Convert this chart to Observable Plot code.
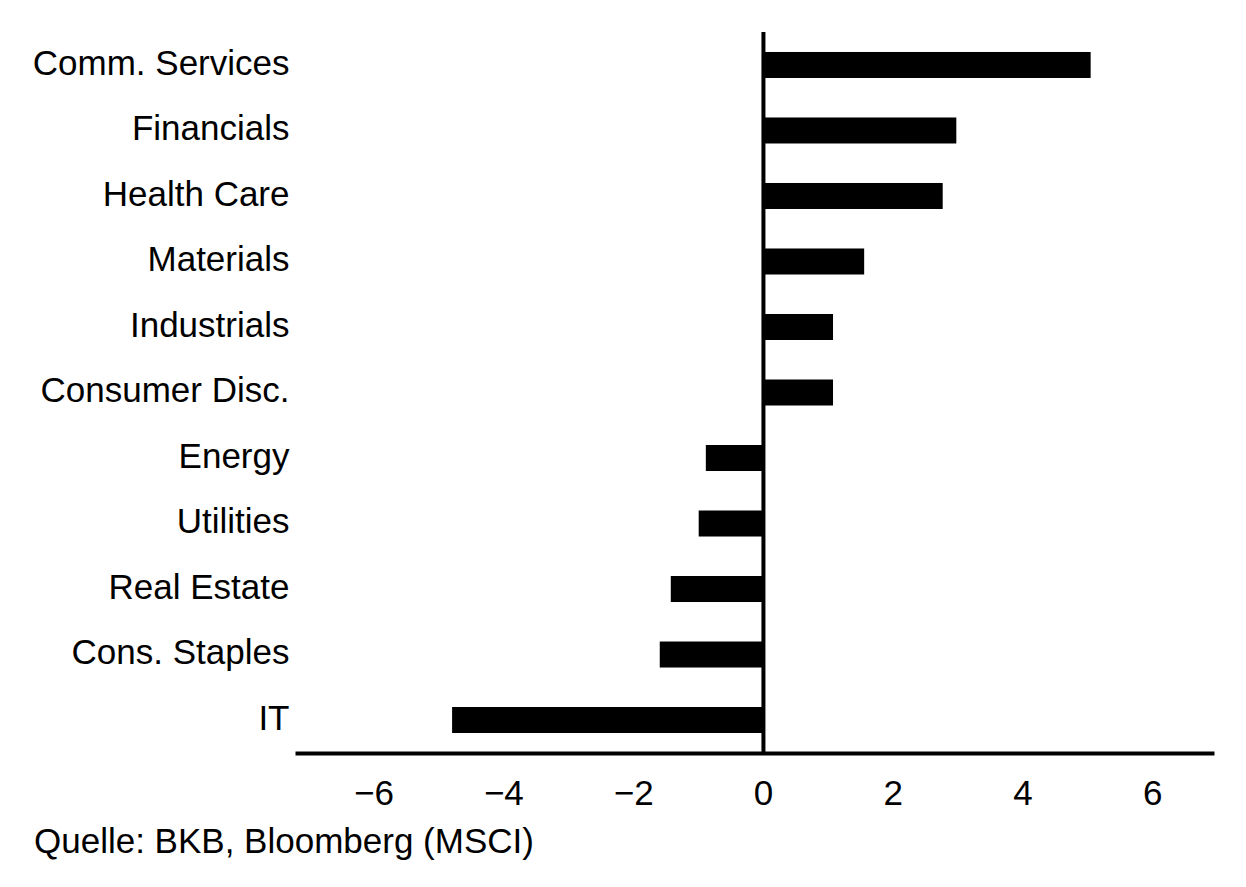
<!DOCTYPE html>
<html>
<head>
<meta charset="utf-8">
<script src="https://cdn.jsdelivr.net/npm/d3@7"></script>
<script src="https://cdn.jsdelivr.net/npm/@observablehq/plot@0.6"></script>
<style>
  html, body { margin: 0; padding: 0; background: #fff; }
  #chart svg { display: block; }
  #caption {
    font-family: "Liberation Sans", Arial, sans-serif;
    font-size: 35px;
    line-height: normal;
    color: #000;
    padding-left: 34px;
    margin-top: -3px;
  }
</style>
</head>
<body>
<div id="chart"></div>
<div id="caption">Quelle: BKB, Bloomberg (MSCI)</div>
<script>
const sectors = [
  "Comm. Services", "Financials", "Health Care", "Materials", "Industrials",
  "Consumer Disc.", "Energy", "Utilities", "Real Estate", "Cons. Staples", "IT"
];
const values = [5.05, 2.98, 2.77, 1.56, 1.08, 1.08, -0.88, -0.99, -1.42, -1.59, -4.79];
const xTicks = [-6, -4, -2, 0, 2, 4, 6];

const data = sectors.map((s, i) => ({sector: s, value: values[i]}));

const chart = Plot.plot({
  width: 1246,
  height: 824,
  marginTop: 32,
  marginBottom: 71,
  marginLeft: 297,
  marginRight: 34,
  style: {fontFamily: "Liberation Sans, Arial, sans-serif", fontSize: "35px", color: "#000", background: "#fff"},
  x: {domain: [-7.18, 6.92], ticks: xTicks},
  y: {domain: sectors, paddingInner: 0.603, paddingOuter: 0.305, round: false, label: null},
  marks: [
    Plot.barX(data, {x: "value", y: "sector", fill: "#000"}),
    Plot.ruleX([0], {stroke: "#000", strokeWidth: 4}),
    Plot.frame({anchor: "bottom", stroke: "#000", strokeWidth: 4}),
    Plot.axisX({ticks: xTicks, tickSize: 0, tickPadding: 27, label: null, fontSize: 35}),
    Plot.axisY({tickSize: 0, tickPadding: 8, label: null, fontSize: 35, dy: -2})
  ]
});
document.getElementById("chart").appendChild(chart);
</script>
</body>
</html>
